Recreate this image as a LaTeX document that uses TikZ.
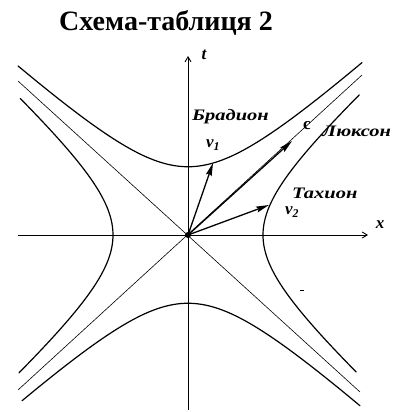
\documentclass[tikz,border=0pt]{standalone}
\usepackage{fontspec}
\setmainfont{Liberation Serif}
\usetikzlibrary{arrows.meta}
\begin{document}
\begin{tikzpicture}[x=1pt,y=-1pt,
  curve/.style={line width=1.2pt,line cap=round},
  light/.style={line width=0.6pt},
  axis/.style={line width=0.9pt,-{Straight Barb[length=5pt,width=6pt]}},
  vec/.style={line width=1.3pt,-{Stealth[length=13pt,width=6pt,inset=2pt]}},
  lbl/.style={inner sep=0pt,font=\fontsize{16}{16}\selectfont\bfseries\itshape},
  sym/.style={inner sep=0pt,font=\fontsize{17}{17}\selectfont\bfseries\itshape}]
\useasboundingbox (0,0) rectangle (396,412);
% title
\node[anchor=base,inner sep=0pt,font=\fontsize{28}{28}\selectfont\bfseries] (title) at (166,31) {Схема-таблиця 2};
% named points
\coordinate (O) at (188,235);
\coordinate (xl) at (18,235);
\coordinate (xr) at (368,235);
\coordinate (tb) at (188,410);
\coordinate (tt) at (188,56);
\coordinate (l1a) at (18,81);
\coordinate (l1b) at (360,392);
\coordinate (l2a) at (18,390);
\coordinate (l2b) at (362,75);
\coordinate (v1tip) at (213,163);
\coordinate (ctip) at (292,141);
\coordinate (v2tip) at (269,205);
% light lines
\draw[light] (l1a) -- (l1b);
\draw[light] (l2a) -- (l2b);
% axes
\draw[axis] (xl) -- (xr);
\draw[axis] (tb) -- (tt);
% bradyon hyperbolas
\draw[curve] plot[domain=-1.70:1.74,samples=80,smooth] ({188+100*\x},{235-91*sqrt(\x*\x+0.5625)});
\draw[curve] plot[domain=-1.66:1.72,samples=80,smooth] ({188+100*\x},{235+91*sqrt(\x*\x+0.5625)});
% tachyon hyperbolas
\draw[curve] plot[domain=-1.505:1.54,samples=80,smooth] ({188+100*sqrt(\x*\x+0.5625)},{235-91*\x});
\draw[curve] plot[domain=-1.515:1.50,samples=80,smooth] ({188-100*sqrt(\x*\x+0.5625)},{235-91*\x});
% vectors
\draw[vec] (O) -- (v1tip);
\draw[vec] (O) -- (ctip);
\draw[vec] (O) -- (v2tip);
\fill (O) circle (3pt);
% small mark
\draw[line width=0.8pt] (300,290) -- (304,290);
% labels
\node[sym] (tl) at (204,55) {t};
\node[sym] (xlab) at (380,225) {x};
\node[lbl,anchor=west] (brad) at (192,117) {\scalebox{1.28}[1]{Брадион}};
\node[lbl,anchor=west] (lux) at (322,131) {\scalebox{1.28}[1]{Люксон}};
\node[lbl,anchor=west] (tach) at (292,193) {\scalebox{1.28}[1]{Тахион}};
\node[inner sep=0pt,font=\fontsize{17}{17}\selectfont\bfseries] (clab) at (307,126) {c};
\node[sym,anchor=west] (v1) at (206,145) {v\textsubscript{\itshape 1}};
\node[sym,anchor=west] (v2) at (285,212) {v\textsubscript{\itshape 2}};
\end{tikzpicture}
\end{document}
